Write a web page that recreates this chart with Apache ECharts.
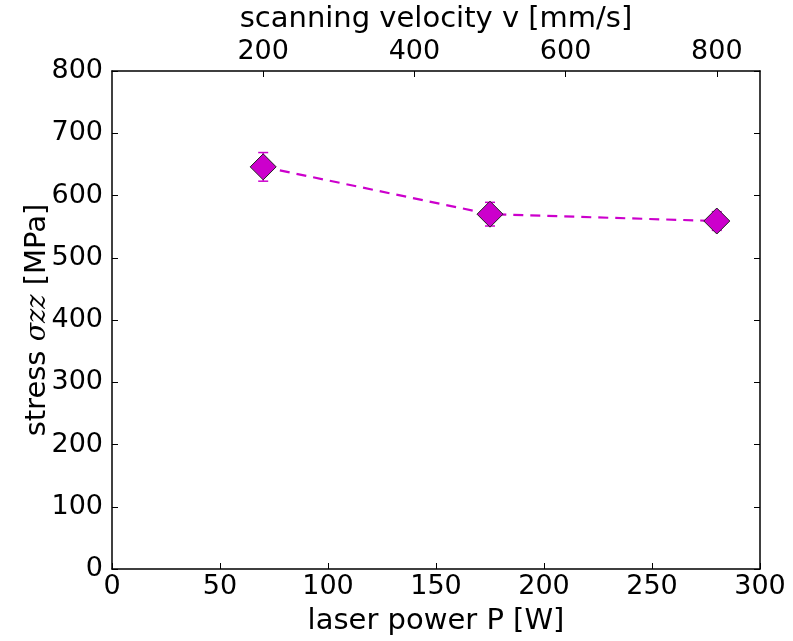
<!DOCTYPE html>
<html>
<head>
<meta charset="utf-8">
<script src="https://cdn.jsdelivr.net/npm/echarts@6/dist/echarts.min.js"></script>
<style>
html,body{margin:0;padding:0;background:#fff;}
#c{width:793px;height:641px;}
</style>
</head>
<body>
<div id="c"></div>
<script>
// Data
const laserPower = [70, 175, 280];           // P [W]
const stress = [646, 570, 559];             // sigma_zz [MPa]
const stressErr = [23, 19, 15];             // error bar half-widths [MPa]
const yTicks = [0, 100, 200, 300, 400, 500, 600, 700, 800];
const xTicks = [0, 50, 100, 150, 200, 250, 300];
const velocityTicks = [200, 400, 600, 800]; // v [mm/s], v = P * 20/7

const chart = echarts.init(document.getElementById('c'), null, {renderer: 'canvas'});
const FONT = 'DejaVu Sans';
const C = '#cc00cc';
const vMax = 300 * 20 / 7;
const TICK_FS = 27;
const NAME_FS = 29;

const axisLine = {show: true, onZero: false, lineStyle: {color: '#000', width: 1.5}};
const axisTick = {show: true, inside: true, length: 6, lineStyle: {color: '#000', width: 1}};

chart.setOption({
  animation: false,
  backgroundColor: '#fff',
  grid: {left: 112, top: 70, width: 648, height: 500, containLabel: false},
  xAxis: [
    {
      type: 'value', position: 'bottom', min: xTicks[0], max: xTicks[xTicks.length - 1], interval: 50,
      axisLine, axisTick, splitLine: {show: false},
      axisLabel: {color: '#000', fontFamily: FONT, fontSize: TICK_FS, margin: 4},
      name: 'laser power P [W]', nameLocation: 'middle', nameGap: 38, nameMoveOverlap: false,
      nameTextStyle: {color: '#000', fontFamily: FONT, fontSize: NAME_FS}
    },
    {
      type: 'value', position: 'top', min: 0, max: vMax, interval: 200,
      axisLine, axisTick, splitLine: {show: false},
      axisLabel: {color: '#000', fontFamily: FONT, fontSize: TICK_FS, margin: 6,
        showMinLabel: false, showMaxLabel: false,
        formatter: v => velocityTicks.includes(v) ? String(v) : ''},
      name: 'scanning velocity v [mm/s]', nameLocation: 'middle', nameGap: 37, nameMoveOverlap: false,
      nameTextStyle: {color: '#000', fontFamily: FONT, fontSize: NAME_FS}
    }
  ],
  yAxis: [
    {
      type: 'value', position: 'left', min: yTicks[0], max: yTicks[yTicks.length - 1], interval: 100,
      axisLine, axisTick, splitLine: {show: false},
      axisLabel: {color: '#000', fontFamily: FONT, fontSize: TICK_FS, margin: 9},
      name: 'stress {i|σzz} [MPa]', nameLocation: 'middle', nameGap: 60, nameRotate: 90, nameMoveOverlap: false,
      nameTextStyle: {color: '#000', fontFamily: FONT, fontSize: NAME_FS,
        rich: {i: {fontFamily: 'DejaVu Serif', fontStyle: 'italic', fontSize: NAME_FS - 2, color: '#000'}}}
    },
    {
      type: 'value', position: 'right', min: yTicks[0], max: yTicks[yTicks.length - 1], interval: 100,
      axisLine, axisTick, splitLine: {show: false}, axisLabel: {show: false}
    }
  ],
  series: [
    {
      type: 'custom',
      xAxisIndex: 0, yAxisIndex: 0,
      data: laserPower.map((p, i) => [p, stress[i] - stressErr[i], stress[i] + stressErr[i]]),
      renderItem: (params, api) => {
        const lo = api.coord([api.value(0), api.value(1)]);
        const hi = api.coord([api.value(0), api.value(2)]);
        const w = 5;
        const st = {stroke: C, lineWidth: 1.5};
        return {type: 'group', children: [
          {type: 'line', shape: {x1: lo[0], y1: lo[1], x2: hi[0], y2: hi[1]}, style: st},
          {type: 'line', shape: {x1: lo[0] - w, y1: lo[1], x2: lo[0] + w, y2: lo[1]}, style: st},
          {type: 'line', shape: {x1: hi[0] - w, y1: hi[1], x2: hi[0] + w, y2: hi[1]}, style: st}
        ]};
      },
      z: 1
    },
    {
      type: 'line',
      xAxisIndex: 0, yAxisIndex: 0,
      data: laserPower.map((p, i) => [p, stress[i]]),
      lineStyle: {color: C, width: 2.2, type: [10, 7]},
      symbol: 'diamond', symbolSize: [26, 26],
      itemStyle: {color: C, borderColor: '#222', borderWidth: 1},
      z: 2
    }
  ]
});
</script>
</body>
</html>
